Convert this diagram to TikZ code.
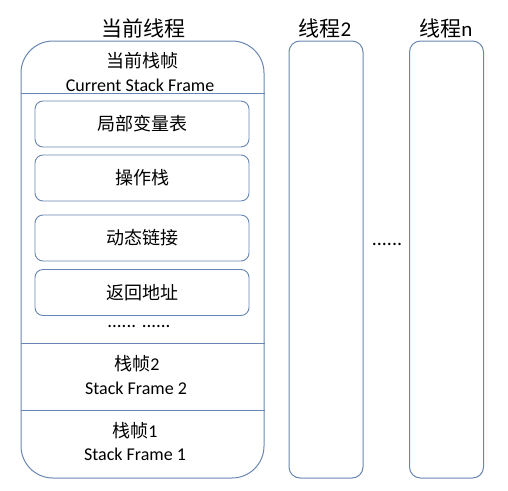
\documentclass[tikz,border=0pt]{standalone}
\usepackage{fontspec}
\setmainfont{Carlito}
\newfontfamily\cjk{Noto Sans CJK SC}
\usetikzlibrary{positioning}
\definecolor{frameblue}{RGB}{104,134,178}

\begin{document}
\begin{tikzpicture}[x=1pt,y=-1pt]
\useasboundingbox (0,0) rectangle (508,490);
\tikzset{slotbox/.style={draw=frameblue,line width=0.9pt,rounded corners=8pt,minimum width=214pt,minimum height=46pt,inner sep=0pt,font=\cjk\fontsize{18}{21}\selectfont},
  threadbox/.style={draw=frameblue,line width=1pt,rounded corners=11pt,minimum width=74pt,minimum height=437pt,inner sep=0pt},
  headtext/.style={font=\fontsize{21}{24}\selectfont,inner sep=0pt},
  zhtext/.style={font=\fontsize{18}{21}\selectfont,inner sep=0pt},
  entext/.style={font=\fontsize{18}{21}\selectfont,inner sep=0pt}}
\node[draw=frameblue,line width=1pt,rounded corners=32pt,minimum width=243pt,minimum height=437pt,inner sep=0pt] (t1) at (142.5,259.5) {};
\node[threadbox] (t2) at (326,259.5) {};
\node[threadbox] (tn) at (446.5,259.5) {};
\node[headtext] (h1) at (143,28) {\cjk 当前线程};
\node[headtext] (h2) at (325,28) {{\cjk 线程}2};
\node[headtext] (hn) at (446,28) {{\cjk 线程}n};
\node[font=\fontsize{20}{22}\selectfont,inner sep=0pt] (dn) at (387,244) {......};
% current frame
\node[zhtext] (cf) at (142,61) {\cjk 当前栈帧};
\node[entext] (cfe) at (140,85) {Current Stack Frame};
\draw[frameblue,line width=0.9pt] (t1.west |- 0,93) -- (t1.east |- 0,93);
\node[slotbox] (s1) at (142,124) {局部变量表};
\node[slotbox] (s2) at (142,178) {操作栈};
\node[slotbox] (s3) at (142,238) {动态链接};
\node[slotbox] (s4) at (142,292.5) {返回地址};
\node[font=\fontsize{19}{22}\selectfont,inner sep=0pt] (dots) at (139,326) {...... ......};
\draw[frameblue,line width=0.9pt] (t1.west |- 0,343) -- (t1.east |- 0,343);
% older frames
\node[zhtext] (f2) at (137,364) {{\cjk 栈帧}2};
\node[entext] (f2e) at (136,388) {Stack Frame 2};
\draw[frameblue,line width=0.9pt] (t1.west |- 0,410) -- (t1.east |- 0,410);
\node[zhtext] (f1) at (135,431) {{\cjk 栈帧}1};
\node[entext] (f1e) at (135,454) {Stack Frame 1};
\end{tikzpicture}
\end{document}
